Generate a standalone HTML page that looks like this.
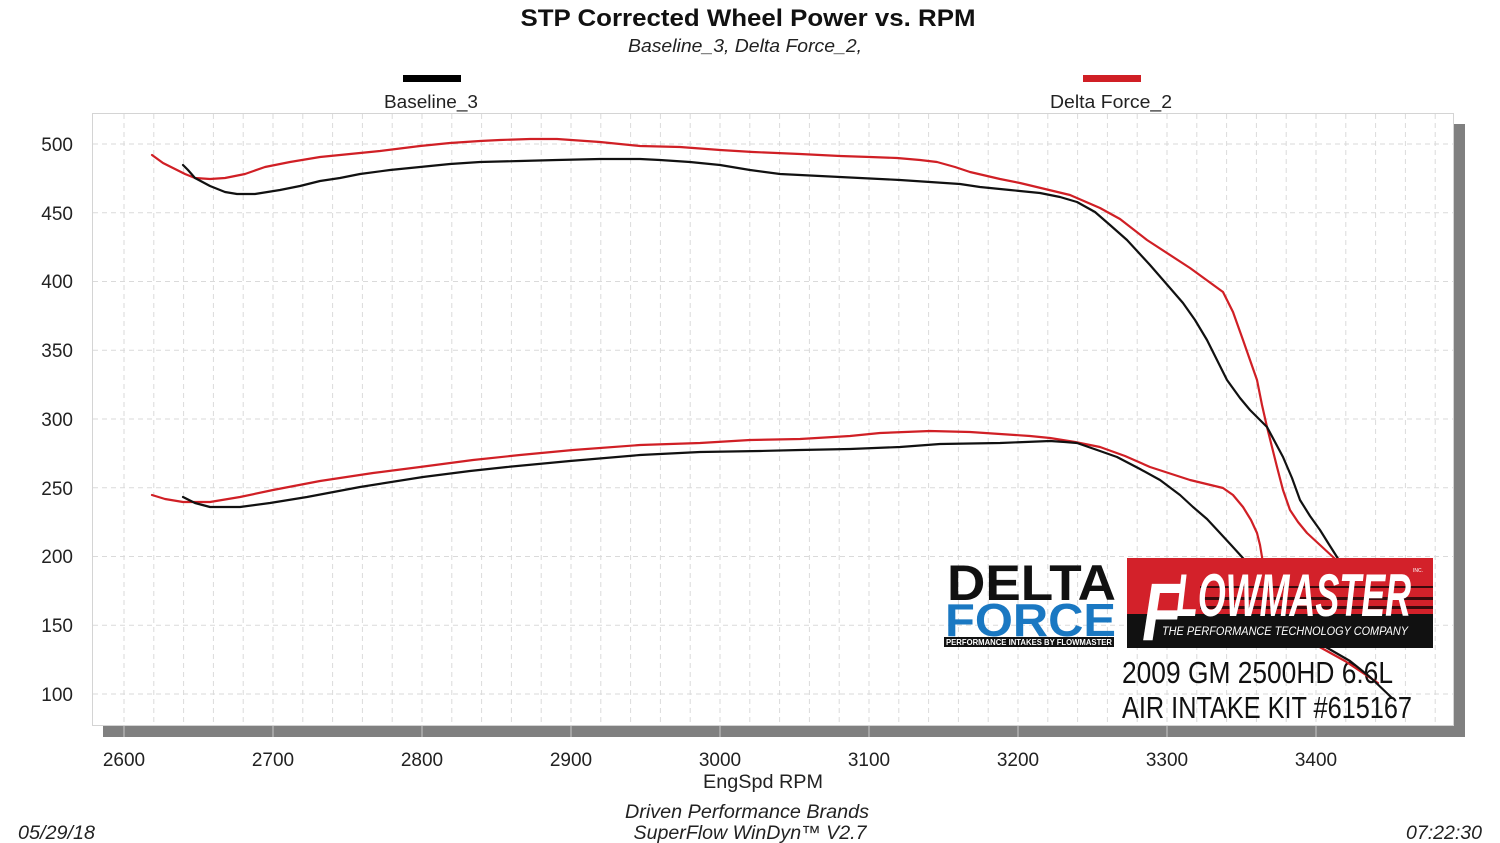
<!DOCTYPE html>
<html><head><meta charset="utf-8"><style>
html,body{margin:0;padding:0;background:#fff;}
svg{display:block;}
text{font-family:"Liberation Sans",Arial,sans-serif;}
</style></head><body>
<svg width="1500" height="843" viewBox="0 0 1500 843" xmlns="http://www.w3.org/2000/svg">
<rect width="1500" height="843" fill="#fff"/>
<!-- title -->
<text x="748" y="26" font-size="24" font-weight="bold" text-anchor="middle" textLength="455" lengthAdjust="spacingAndGlyphs" fill="#111">STP Corrected Wheel Power vs. RPM</text>
<text x="745" y="52" font-size="18" font-style="italic" text-anchor="middle" textLength="234" lengthAdjust="spacingAndGlyphs" fill="#222">Baseline_3, Delta Force_2,</text>
<!-- legend -->
<rect x="403" y="75" width="58" height="7" fill="#000"/>
<rect x="1083" y="75" width="58" height="7" fill="#d01f25"/>
<text x="431" y="108" font-size="18" text-anchor="middle" textLength="94" lengthAdjust="spacingAndGlyphs" fill="#222">Baseline_3</text>
<text x="1111" y="108" font-size="18" text-anchor="middle" textLength="122" lengthAdjust="spacingAndGlyphs" fill="#222">Delta Force_2</text>

<!-- shadow -->
<rect x="1454" y="124" width="11" height="613" fill="#808080"/>
<rect x="103" y="726" width="1362" height="11" fill="#808080"/>
<g stroke="#c8c8c8" stroke-width="1">
<line x1="124" y1="726" x2="124" y2="737"/><line x1="273" y1="726" x2="273" y2="737"/><line x1="422" y1="726" x2="422" y2="737"/><line x1="571" y1="726" x2="571" y2="737"/><line x1="720" y1="726" x2="720" y2="737"/><line x1="869" y1="726" x2="869" y2="737"/><line x1="1018" y1="726" x2="1018" y2="737"/><line x1="1167" y1="726" x2="1167" y2="737"/><line x1="1316" y1="726" x2="1316" y2="737"/>
</g>
<!-- plot area -->
<rect x="92.5" y="113.5" width="1361" height="612" fill="#fff" stroke="#d4d4d4" stroke-width="1"/>
<!-- grid -->
<g stroke="#dadada" stroke-width="1" stroke-dasharray="5,4">
<line x1="124" y1="114" x2="124" y2="725"/><line x1="153.8" y1="114" x2="153.8" y2="725"/><line x1="183.6" y1="114" x2="183.6" y2="725"/><line x1="213.4" y1="114" x2="213.4" y2="725"/><line x1="243.2" y1="114" x2="243.2" y2="725"/><line x1="273" y1="114" x2="273" y2="725"/><line x1="302.8" y1="114" x2="302.8" y2="725"/><line x1="332.6" y1="114" x2="332.6" y2="725"/><line x1="362.4" y1="114" x2="362.4" y2="725"/><line x1="392.2" y1="114" x2="392.2" y2="725"/><line x1="422" y1="114" x2="422" y2="725"/><line x1="451.8" y1="114" x2="451.8" y2="725"/><line x1="481.6" y1="114" x2="481.6" y2="725"/><line x1="511.4" y1="114" x2="511.4" y2="725"/><line x1="541.2" y1="114" x2="541.2" y2="725"/><line x1="571" y1="114" x2="571" y2="725"/><line x1="600.8" y1="114" x2="600.8" y2="725"/><line x1="630.6" y1="114" x2="630.6" y2="725"/><line x1="660.4" y1="114" x2="660.4" y2="725"/><line x1="690.2" y1="114" x2="690.2" y2="725"/><line x1="720" y1="114" x2="720" y2="725"/><line x1="749.8" y1="114" x2="749.8" y2="725"/><line x1="779.6" y1="114" x2="779.6" y2="725"/><line x1="809.4" y1="114" x2="809.4" y2="725"/><line x1="839.2" y1="114" x2="839.2" y2="725"/><line x1="869" y1="114" x2="869" y2="725"/><line x1="898.8" y1="114" x2="898.8" y2="725"/><line x1="928.6" y1="114" x2="928.6" y2="725"/><line x1="958.4" y1="114" x2="958.4" y2="725"/><line x1="988.2" y1="114" x2="988.2" y2="725"/><line x1="1018" y1="114" x2="1018" y2="725"/><line x1="1047.8" y1="114" x2="1047.8" y2="725"/><line x1="1077.6" y1="114" x2="1077.6" y2="725"/><line x1="1107.4" y1="114" x2="1107.4" y2="725"/><line x1="1137.2" y1="114" x2="1137.2" y2="725"/><line x1="1167" y1="114" x2="1167" y2="725"/><line x1="1196.8" y1="114" x2="1196.8" y2="725"/><line x1="1226.6" y1="114" x2="1226.6" y2="725"/><line x1="1256.4" y1="114" x2="1256.4" y2="725"/><line x1="1286.2" y1="114" x2="1286.2" y2="725"/><line x1="1316" y1="114" x2="1316" y2="725"/><line x1="1345.8" y1="114" x2="1345.8" y2="725"/><line x1="1375.6" y1="114" x2="1375.6" y2="725"/><line x1="1405.4" y1="114" x2="1405.4" y2="725"/><line x1="1435.2" y1="114" x2="1435.2" y2="725"/>
<line x1="93" y1="144" x2="1453" y2="144"/><line x1="93" y1="212.75" x2="1453" y2="212.75"/><line x1="93" y1="281.5" x2="1453" y2="281.5"/><line x1="93" y1="350.25" x2="1453" y2="350.25"/><line x1="93" y1="419" x2="1453" y2="419"/><line x1="93" y1="487.75" x2="1453" y2="487.75"/><line x1="93" y1="556.5" x2="1453" y2="556.5"/><line x1="93" y1="625.25" x2="1453" y2="625.25"/><line x1="93" y1="694" x2="1453" y2="694"/>
</g>
<!-- y labels -->
<g font-size="19" fill="#222" text-anchor="end">
<text x="73" y="151">500</text><text x="73" y="220">450</text><text x="73" y="288">400</text><text x="73" y="357">350</text><text x="73" y="426">300</text><text x="73" y="495">250</text><text x="73" y="563">200</text><text x="73" y="632">150</text><text x="73" y="701">100</text>
</g>
<!-- x labels -->
<g font-size="19" fill="#222" text-anchor="middle">
<text x="124" y="766">2600</text><text x="273" y="766">2700</text><text x="422" y="766">2800</text><text x="571" y="766">2900</text><text x="720" y="766">3000</text><text x="869" y="766">3100</text><text x="1018" y="766">3200</text><text x="1167" y="766">3300</text><text x="1316" y="766">3400</text>
</g>
<text x="763" y="788" font-size="19" fill="#222" text-anchor="middle" textLength="120" lengthAdjust="spacingAndGlyphs">EngSpd  RPM</text>
<text x="747" y="818" font-size="19" font-style="italic" fill="#222" text-anchor="middle" textLength="244" lengthAdjust="spacingAndGlyphs">Driven Performance Brands</text>
<text x="750" y="839" font-size="19" font-style="italic" fill="#222" text-anchor="middle" textLength="233" lengthAdjust="spacingAndGlyphs">SuperFlow WinDyn™  V2.7</text>
<text x="18" y="839" font-size="19" font-style="italic" fill="#222" textLength="77" lengthAdjust="spacingAndGlyphs">05/29/18</text>
<text x="1482" y="839" font-size="19" font-style="italic" fill="#222" text-anchor="end" textLength="76" lengthAdjust="spacingAndGlyphs">07:22:30</text>

<!-- annotation text -->
<text x="1122" y="683" font-size="31" fill="#111" textLength="271" lengthAdjust="spacingAndGlyphs">2009 GM 2500HD 6.6L</text>
<text x="1122" y="718" font-size="31" fill="#111" textLength="290" lengthAdjust="spacingAndGlyphs">AIR INTAKE KIT #615167</text>

<!-- curves -->
<g fill="none" stroke-width="2.2" stroke-linejoin="round" stroke-linecap="round">
<polyline stroke="#d01f25" points="152,155 163,163 173,168 185,174 195,178 210,179 225,178 245,174 265,167 290,162 320,157 350,154 380,151 420,146 450,143 480,141 500,140 530,139 557,139 600,142 640,146 680,147 720,150 753,152 800,154 840,156 870,157 897,158 920,160 937,162 955,167 970,172 1000,179 1020,183 1045,189 1070,195 1100,208 1120,219 1147,240 1190,268 1223,292 1233,312 1243,340 1250,360 1257,380 1262,405 1267,427 1272,447 1277,467 1283,490 1290,510 1298,522 1307,533 1320,545 1333,557 1345,568"/>
<polyline stroke="#111" points="183,165 188,170 195,178 210,186 225,192 237,194 255,194 280,190 300,186 320,181 340,178 360,174 390,170 420,167 450,164 480,162 520,161 557,160 600,159 640,159 660,160 690,162 720,165 750,170 780,174 820,176 860,178 900,180 930,182 960,184 980,187 1010,190 1040,193 1060,197 1077,202 1095,212 1110,225 1127,240 1150,265 1170,288 1183,303 1195,320 1207,340 1217,360 1227,380 1240,398 1250,410 1258,418 1267,427 1275,442 1283,457 1292,478 1300,500 1310,516 1320,530 1330,546 1337,557 1345,570"/>
<polyline stroke="#d01f25" points="152,495 165,499 183,502 195,502 210,502 240,497 273,490 320,481 373,473 420,467 473,460 520,455 573,450 640,445 700,443 750,440 800,439 850,436 880,433 930,431 970,432 1000,434 1030,436 1050,438 1075,442 1100,447 1125,456 1150,467 1190,480 1223,488 1233,495 1243,507 1251,520 1257,533 1260,545 1262,557 1263,565"/>
<polyline stroke="#111" points="183,497 195,503 210,507 240,507 270,503 307,497 360,487 423,477 470,471 507,467 570,461 640,455 700,452 760,451 800,450 850,449 900,447 940,444 1000,443 1050,441 1065,442 1077,443 1100,451 1117,457 1140,469 1160,480 1180,495 1193,507 1207,519 1220,533 1232,546 1242,557 1250,566"/>
<polyline stroke="#d01f25" points="1316,645 1345,661 1378,683"/>
<polyline stroke="#111" points="1324,646 1350,661 1370,677 1392,698"/>
</g>

<!-- Delta Force logo -->
<text x="947" y="600" font-size="50" font-weight="bold" fill="#111" textLength="169" lengthAdjust="spacingAndGlyphs">DELTA</text>
<text x="945" y="636" font-size="46" font-weight="bold" fill="#1a78c2" textLength="171" lengthAdjust="spacingAndGlyphs">FORCE</text>
<rect x="944" y="637" width="170" height="10" fill="#111"/>
<text x="946" y="645" font-size="8" font-weight="bold" fill="#fff" textLength="166" lengthAdjust="spacingAndGlyphs">PERFORMANCE INTAKES BY FLOWMASTER</text>

<!-- Flowmaster logo -->
<rect x="1127" y="558" width="306" height="90" fill="#111"/>
<rect x="1127" y="558" width="306" height="56" fill="#d3212a"/>
<rect x="1200" y="586" width="233" height="2" fill="#3a0a0c"/>
<rect x="1200" y="597" width="233" height="3" fill="#3a0a0c"/>
<rect x="1200" y="606" width="233" height="3" fill="#3a0a0c"/>
<text x="1142" y="640" font-size="82" font-weight="bold" font-style="italic" fill="#fff" textLength="40" lengthAdjust="spacingAndGlyphs">F</text>
<text x="1176" y="616" font-size="60" font-weight="bold" font-style="italic" fill="#fff" textLength="235" lengthAdjust="spacingAndGlyphs">LOWMASTER</text>
<text x="1162" y="635" font-size="12" font-style="italic" fill="#fff" textLength="246" lengthAdjust="spacingAndGlyphs">THE PERFORMANCE TECHNOLOGY COMPANY</text>
<text x="1413" y="572" font-size="5" fill="#fff">INC.</text>
</svg>
</body></html>
